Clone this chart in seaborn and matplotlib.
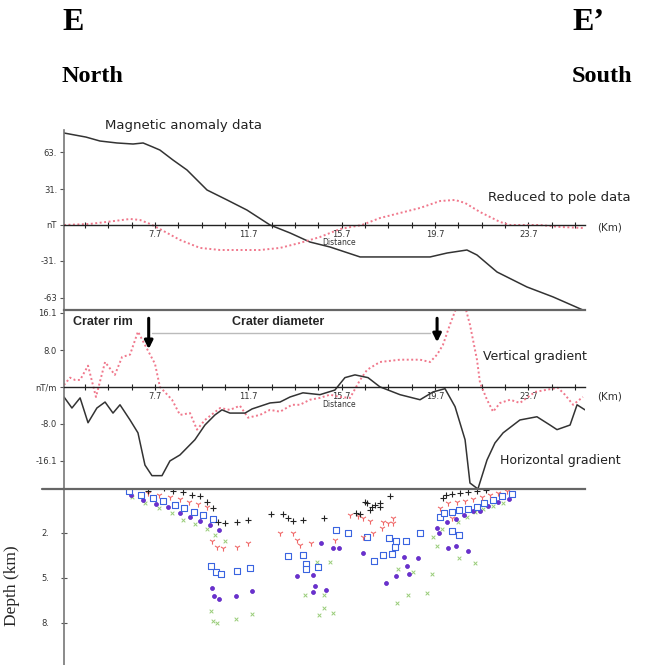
import matplotlib

matplotlib.use("Agg")
import matplotlib.pyplot as plt
import numpy as np
import seaborn as sns

# Profile E-E' (distance along profile in km)
mag_km = [3.8, 4.74, 5.34, 6.07, 6.76, 7.19, 7.61, 7.91, 8.47, 9.07, 9.93, 10.79, 11.64, 12.63,
          13.49, 14.34, 15.2, 16.49, 19.49, 20.22, 21.07, 21.5, 22.36, 23.64, 24.76, 26.04]
mag_nt = [79.4, 75.9, 72.5, 70.8, 69.9, 70.8, 67.3, 64.7, 56.1, 47.5, 30.2, 21.6, 12.9, 0.0,
          -6.9, -14.7, -19.0, -27.6, -27.6, -24.2, -21.6, -25.9, -40.6, -53.5, -62.1, -73.4]

rtp_km = [3.8, 4.91, 5.98, 6.63, 7.06, 7.49, 7.91, 8.77, 9.63, 10.49, 12.2, 13.06, 13.91, 14.77,
          15.63, 16.57, 17.34, 19.06, 19.92, 20.56, 20.99, 21.63, 22.49, 22.92, 24.2, 25.06, 26.04]
rtp_nt = [0.0, 0.9, 3.5, 5.2, 4.3, 0.9, -3.5, -12.9, -19.8, -21.6, -21.6, -19.8, -15.5, -10.4,
          -3.5, 0.0, 6.0, 14.7, 20.7, 21.6, 19.0, 11.2, 2.6, 0.0, 0.0, -1.7, -2.6]

vgrad_km = [3.8, 4.06, 4.27, 4.49, 4.83, 5.17, 5.56, 5.98, 6.29, 6.63, 6.97, 7.27, 7.7, 7.91,
            8.43, 8.77, 9.2, 9.5, 9.84, 10.49, 10.91, 11.34, 11.69, 12.2, 12.63, 13.06, 13.57,
            13.91, 14.34, 14.77, 15.2, 15.63, 16.06, 16.49, 16.79, 17.34, 18.2, 19.06, 19.49,
            19.79, 20.04, 20.34, 20.64, 20.99, 21.2, 21.5, 21.63, 21.93, 22.19, 22.49, 22.92,
            23.34, 23.64, 23.99, 24.42, 24.97, 25.27, 25.62, 26.04]
vgrad_val = [0.4, 2.0, 1.5, 1.5, 4.6, -2.2, 5.4, 2.6, 6.5, 7.0, 12.0, 9.1, 5.0, 0.0,
             -2.8, -6.1, -5.7, -9.3, -7.2, -4.6, -5.0, -4.1, -6.7, -6.1, -5.0, -5.4, -3.9,
             -3.9, -2.8, -2.4, -1.7, -2.2, -2.4, 1.5, 3.7, 5.4, 5.9, 5.9, 5.4,
             7.0, 9.1, 13.5, 17.5, 17.5, 13.5, 5.9, 0.9, -2.8, -5.4, -3.5, -2.8,
             -3.5, -2.4, -1.1, -0.7, -0.2, -1.7, -3.9, -2.2]

hgrad_km = [3.8, 4.14, 4.49, 4.83, 5.21, 5.56, 5.9, 6.2, 6.63, 6.97, 7.27, 7.57, 8.0, 8.34,
            8.77, 9.41, 9.84, 10.27, 10.57, 10.91, 11.56, 11.86, 12.63, 13.06, 13.49, 14.04,
            14.77, 15.41, 15.84, 16.27, 16.83, 17.34, 18.2, 19.06, 19.62, 20.13, 20.56, 20.99,
            21.2, 21.54, 21.93, 22.27, 22.62, 23.34, 24.07, 24.63, 24.93, 25.49, 25.79, 26.13]
hgrad_val = [-2.2, -4.6, -2.4, -7.8, -4.6, -3.3, -5.7, -3.9, -7.2, -10.0, -17.0, -19.3, -19.3, -16.1,
             -14.8, -11.5, -8.3, -6.1, -5.0, -5.7, -5.7, -4.8, -3.5, -3.3, -2.2, -1.3,
             -1.7, -0.7, 2.0, 2.6, 2.0, 0.0, -1.7, -2.8, -1.1, -0.4, -4.3, -11.5,
             -20.9, -22.2, -15.9, -12.2, -10.0, -7.2, -6.5, -8.3, -9.3, -8.3, -3.9, -5.0]

# Euler solutions (distance km, depth km), one list pair per symbol
plus_km = [7.4, 8.09, 8.47, 8.9, 9.29, 9.63, 9.93, 10.19, 10.4, 10.7, 11.21, 11.69, 12.67, 13.19,
           13.4, 13.61, 14.04, 14.94, 16.32, 16.49, 16.7, 16.79, 16.92, 17.0, 17.13, 17.34, 17.34,
           17.77, 20.04, 20.17, 20.43, 20.77, 21.12, 21.5, 21.89]
plus_depth = [-0.8, -1.0, -0.8, -0.73, -0.53, -0.47, -0.07, 0.33, 1.27, 1.33, 1.27, 1.13, 0.73, 0.73,
              1.0, 1.2, 1.13, 1.0, 0.67, 0.73, -0.07, 0.0, 0.47, 0.27, 0.13, 0.0, 0.27,
              -0.47, -0.33, -0.53, -0.6, -0.67, -0.73, -0.8, -0.87]

tri_km = [7.4, 7.87, 8.34, 8.77, 9.16, 9.54, 9.93, 10.14, 10.36, 10.61, 11.21, 11.69, 13.06, 13.61,
          13.79, 13.91, 14.39, 15.42, 16.06, 16.4, 16.62, 16.62, 16.92, 17.04, 17.43, 17.47, 17.69,
          17.9, 17.9, 19.92, 20.26, 20.43, 20.64, 20.99, 21.33, 21.72, 22.06, 22.4, 22.79]
tri_depth = [-0.67, -0.53, -0.4, -0.27, -0.07, 0.07, 0.27, 2.53, 2.93, 3.0, 2.93, 2.67, 2.0, 2.0,
             2.47, 2.8, 2.67, 2.47, 0.8, 0.87, 1.0, 2.27, 1.2, 2.0, 1.67, 1.27, 1.33,
             1.0, 1.33, 0.33, 0.0, 1.0, -0.07, -0.13, -0.27, -0.4, -0.53, -0.67, -0.8]

sq_km = [6.59, 7.1, 7.61, 8.04, 8.56, 8.94, 9.37, 9.76, 10.19, 10.1, 10.31, 10.53, 11.21, 11.77,
         13.4, 14.04, 14.17, 14.17, 14.69, 15.46, 15.97, 16.79, 17.09, 17.47, 17.73, 17.86, 17.99,
         18.03, 18.46, 19.06, 19.92, 20.09, 20.43, 20.73, 20.43, 20.73, 21.12, 21.5, 21.8, 22.19,
         22.57, 23.0]
sq_depth = [-0.8, -0.53, -0.33, -0.13, 0.13, 0.33, 0.6, 0.8, 1.07, 4.2, 4.6, 4.73, 4.53, 4.33,
            3.53, 3.47, 4.07, 4.4, 4.27, 1.8, 2.0, 2.27, 3.87, 3.47, 2.33, 3.4, 2.93,
            2.53, 2.53, 2.0, 0.93, 0.67, 0.6, 0.47, 1.87, 2.13, 0.4, 0.27, 0.0, -0.2,
            -0.47, -0.6]

dot_km = [6.67, 7.19, 7.74, 8.26, 8.77, 9.2, 9.63, 10.06, 10.44, 10.14, 10.23, 10.44, 11.17, 11.86,
          13.79, 14.47, 14.56, 14.47, 15.03, 14.81, 15.33, 15.59, 16.62, 17.6, 18.03, 17.9, 18.37,
          18.5, 18.59, 18.97, 19.79, 19.87, 20.22, 20.26, 20.6, 20.6, 21.12, 20.94, 21.33, 21.63,
          21.97, 22.4, 22.87]
dot_depth = [-0.53, -0.2, 0.07, 0.27, 0.67, 0.93, 1.2, 1.47, 1.8, 5.67, 6.2, 6.4, 6.2, 5.87,
             4.87, 4.8, 5.53, 5.93, 5.8, 2.67, 3.0, 3.0, 3.33, 5.33, 4.87, 3.4, 3.6,
             4.2, 4.73, 3.67, 1.67, 2.0, 1.27, 3.0, 1.07, 2.87, 3.2, 0.8, 0.53, 0.53,
             0.2, -0.07, -0.27]

cross_km = [6.71, 7.27, 7.87, 8.43, 8.9, 9.41, 9.93, 10.27, 10.7, 10.1, 10.19, 10.36, 11.17, 11.86,
            14.13, 14.64, 14.94, 14.94, 14.73, 15.33, 15.2, 18.12, 18.54, 18.76, 18.07, 19.36,
            19.57, 19.62, 19.79, 20.0, 20.73, 21.42, 20.69, 21.07, 21.42, 21.76, 22.19, 22.62]
cross_depth = [-0.4, 0.0, 0.33, 0.67, 1.13, 1.4, 1.73, 2.13, 2.53, 7.2, 7.87, 8.0, 7.73, 7.4,
               6.13, 3.93, 6.13, 7.0, 7.47, 7.33, 3.93, 4.4, 6.13, 4.6, 6.67, 6.0,
               4.73, 2.27, 2.87, 1.73, 3.67, 4.0, 1.27, 0.93, 0.6, 0.4, 0.2, 0.0]

km_ticks = [7.7, 11.7, 15.7, 19.7, 23.7]
km_minor = [4.7, 5.7, 6.7, 8.7, 9.7, 10.7, 12.7, 13.7, 14.7, 16.7, 17.7, 18.7, 20.7, 21.7,
            22.7, 24.7, 25.7]
mag_ticks = [63, 31, 0, -31, -63]
mag_labels = ["63.", "31.", "nT", "-31.", "-63"]
grad_ticks = [16.1, 8.0, 0, -8.0, -16.1]
grad_labels = ["16.1", "8.0", "nT/m", "-8.0", "-16.1"]
depth_ticks = [2, 5, 8]
depth_labels = ["2.", "5.", "8."]
crater_rim_km = [7.43, 19.79]

sns.set_theme(style="white")
plt.rcParams["font.family"] = ["DejaVu Sans"]

W, H = 646, 665
fig = plt.figure(figsize=(W / 100, H / 100), dpi=100)
fig.patch.set_facecolor("white")


def box(x0, y0, x1, y1):
    return [x0 / W, 1 - y1 / H, (x1 - x0) / W, (y1 - y0) / H]


ax1 = fig.add_axes(box(64, 130, 585, 310))
ax2 = fig.add_axes(box(64, 310, 585, 489))
ax3 = fig.add_axes(box(64, 489, 585, 665))
XLIM = (3.8, 26.13)
PINK = "#f0788c"
DARK = "#333333"


def profile_axis(ax, ticks, labels, show_top):
    ax.set_facecolor("none")
    ax.set_xlim(*XLIM)
    ax.spines["right"].set_visible(False)
    ax.spines["top"].set_visible(show_top)
    ax.spines["top"].set_color("#666666")
    ax.spines["top"].set_linewidth(1.6)
    ax.spines["bottom"].set_position(("data", 0))
    ax.spines["bottom"].set_color("#222222")
    ax.spines["bottom"].set_linewidth(1.0)
    ax.spines["left"].set_color("#777777")
    ax.spines["left"].set_linewidth(1.2)
    ax.set_xticks(km_ticks)
    ax.set_xticklabels([str(t) for t in km_ticks])
    ax.set_xticks(km_minor, minor=True)
    ax.tick_params(axis="x", which="both", bottom=True, direction="inout", length=4, width=0.8,
                   color="#222222", labelsize=6, pad=1.5, labelcolor="#333333")
    ax.set_yticks(ticks)
    ax.set_yticklabels(labels)
    ax.tick_params(axis="y", left=True, direction="out", length=3, width=0.8, color="#555555",
                   labelsize=6, pad=2, labelcolor="#333333")
    ax.set_xlabel("")
    ax.set_ylabel("")


# --- magnetic anomaly and RTP ---
sns.lineplot(x=mag_km, y=mag_nt, ax=ax1, color=DARK, linewidth=1.1)
sns.lineplot(x=rtp_km, y=rtp_nt, ax=ax1, color=PINK, linewidth=1.4, linestyle=(0, (1, 1.3)))
ax1.set_ylim(-73.4, 82.0)
profile_axis(ax1, mag_ticks, mag_labels, False)
ax1.text(5.56, 85.5, "Magnetic anomaly data", fontsize=9.5, color="#222222", va="center",
         clip_on=False)
ax1.text(21.97, 23.3, "Reduced to pole data", fontsize=9.5, color="#222222", va="center")
ax1.text(15.59, -15.5, "Distance", fontsize=5.5, color="#333333", ha="center", va="center")
ax1.text(27.2, -2.6, "(Km)", fontsize=7.5, color="#333333", ha="center", va="center")

# --- gradients ---
sns.lineplot(x=vgrad_km, y=vgrad_val, ax=ax2, color=PINK, linewidth=1.4, linestyle=(0, (1, 1.3)))
sns.lineplot(x=hgrad_km, y=hgrad_val, ax=ax2, color=DARK, linewidth=1.1)
ax2.set_ylim(-22.2, 16.7)
profile_axis(ax2, grad_ticks, grad_labels, True)
ax2.plot([crater_rim_km[0] + 0.15, crater_rim_km[1] - 0.3], [11.7, 11.7], color="#bbbbbb",
         linewidth=1.0)
for rim_km, tip in zip(crater_rim_km, [7.6, 9.1]):
    ax2.annotate("", xy=(rim_km, tip), xytext=(rim_km, 15.5),
                 arrowprops=dict(arrowstyle="-|>", color="black", lw=2.2, mutation_scale=12))
ax2.text(4.18, 14.1, "Crater rim", fontsize=9, fontweight="bold", family="Liberation Sans",
         va="center")
ax2.text(11.0, 14.1, "Crater diameter", fontsize=9, fontweight="bold", family="Liberation Sans",
         va="center")
ax2.text(21.76, 6.5, "Vertical gradient", fontsize=9, color="#222222", va="center")
ax2.text(22.49, -16.1, "Horizontal gradient", fontsize=9, color="#222222", va="center")
ax2.text(15.59, -3.9, "Distance", fontsize=5.5, color="#333333", ha="center", va="center")
ax2.text(27.2, -2.2, "(Km)", fontsize=7.5, color="#333333", ha="center", va="center")

# --- Euler depth solutions ---
sns.scatterplot(x=cross_km, y=cross_depth, ax=ax3, marker="x", color="#9acd7a", s=7, linewidth=0.7)
sns.scatterplot(x=dot_km, y=dot_depth, ax=ax3, marker="o", color="#6a30d0", edgecolor="#5a20c0",
                s=8, linewidth=0.5)
sns.scatterplot(x=sq_km, y=sq_depth, ax=ax3, marker="s", color="white", edgecolor="#3a64e0",
                s=13, linewidth=0.8)
sns.scatterplot(x=tri_km, y=tri_depth, ax=ax3, marker="1", color="#f06868", s=20, linewidth=0.8)
sns.scatterplot(x=plus_km, y=plus_depth, ax=ax3, marker="+", color="#222222", s=14, linewidth=0.8)
ax3.set_xlim(*XLIM)
ax3.set_ylim(10.8, -0.93)
ax3.set_facecolor("none")
for s in ["right", "bottom"]:
    ax3.spines[s].set_visible(False)
ax3.spines["top"].set_color("#666666")
ax3.spines["top"].set_linewidth(1.6)
ax3.spines["left"].set_color("#777777")
ax3.spines["left"].set_linewidth(1.2)
ax3.plot([-0.042, 0], [1, 1], transform=ax3.transAxes, clip_on=False, color="#666666",
         linewidth=1.6)
ax3.set_xticks([])
ax3.set_yticks(depth_ticks)
ax3.set_yticklabels(depth_labels)
ax3.tick_params(axis="y", left=True, direction="inout", length=5, width=0.8, color="#555555",
                labelsize=6, pad=8, labelcolor="#333333")
ax3.set_xlabel("")
ax3.set_ylabel("Depth (km)", family="Liberation Serif", fontsize=12.5, labelpad=10)
ax3.yaxis.set_label_coords(-0.085, 0.45)

# --- header ---
serif = dict(family="Liberation Serif", fontweight="bold", color="black")
fig.text(62 / W, 1 - 23 / H, "E", fontsize=23, va="center", **serif)
fig.text(572 / W, 1 - 23 / H, "E\u2019", fontsize=23, va="center", **serif)
fig.text(62 / W, 1 - 77 / H, "North", fontsize=17.5, va="center", **serif)
fig.text(572 / W, 1 - 77 / H, "South", fontsize=17.5, va="center", **serif)

fig.savefig("out.png", dpi=100)
